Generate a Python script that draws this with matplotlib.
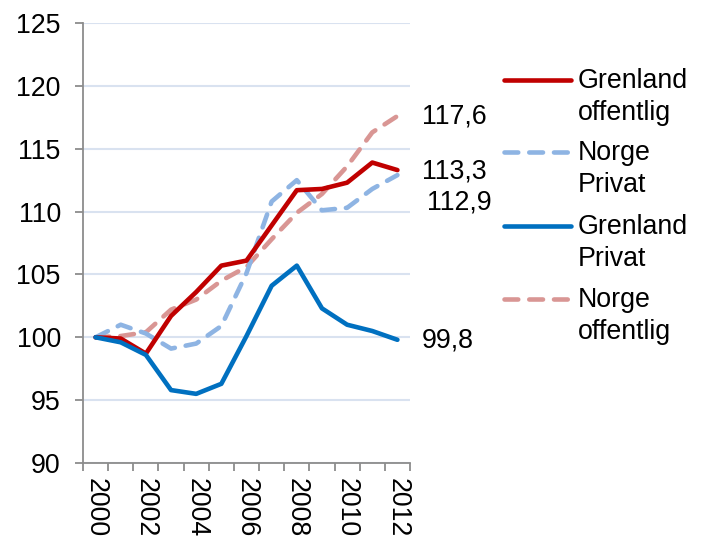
import numpy as np
import matplotlib
matplotlib.use("Agg")
from matplotlib import pyplot as plt
from matplotlib.lines import Line2D

plt.rcParams['font.family'] = ['Liberation Sans', 'DejaVu Sans']

years = list(range(2000, 2013))
grenland_offentlig = [100.0, 99.9, 98.7, 101.7, 103.6, 105.7, 106.1, 108.9, 111.7, 111.8, 112.3, 113.9, 113.3]
norge_privat = [100.0, 101.0, 100.3, 99.1, 99.5, 100.9, 105.1, 110.8, 112.5, 110.1, 110.3, 111.8, 112.9]
grenland_privat = [100.0, 99.6, 98.6, 95.8, 95.5, 96.3, 100.1, 104.1, 105.7, 102.3, 101.0, 100.5, 99.8]
norge_offentlig = [100.0, 100.1, 100.4, 102.2, 103.0, 104.5, 105.6, 107.8, 109.9, 111.4, 113.6, 116.3, 117.6]

series = [
    ("Grenland\noffentlig", grenland_offentlig, "#C00000", "-"),
    ("Norge\nPrivat", norge_privat, "#8EB4E3", "--"),
    ("Grenland\nPrivat", grenland_privat, "#0070C0", "-"),
    ("Norge\noffentlig", norge_offentlig, "#D99694", "--"),
]
end_labels = ["113,3", "112,9", "99,8", "117,6"]
# pixel offsets of the end labels from the last point
label_offsets = [(25, -1), (30, -27), (24, -1), (25, 0)]

FS = 19.3
LW = 3.3
DASH = (3.0, 2.4)

W, H = 703, 538
fig = plt.figure(figsize=(W / 100, H / 100), dpi=100)
ax = fig.add_axes([83 / W, 1 - 463 / H, (410 - 83) / W, (463 - 23) / H])

x = np.arange(len(years))
draw_order = [3, 1, 0, 2]
for i in draw_order:
    name, vals, color, ls = series[i]
    if ls == "--":
        ax.plot(x, vals, color=color, lw=LW, dashes=DASH,
                dash_capstyle="round", solid_joinstyle="round", zorder=3)
    else:
        ax.plot(x, vals, color=color, lw=LW, solid_capstyle="round",
                solid_joinstyle="round", zorder=4)

for (name, vals, color, ls), lab, (dx, dy) in zip(series, end_labels, label_offsets):
    ax.annotate(lab, xy=(x[-1], vals[-1]), xytext=(dx, dy), textcoords="offset pixels",
                ha="left", va="center", fontsize=FS, annotation_clip=False)

ax.set_xlim(-0.5, len(years) - 0.5)
ax.set_ylim(90, 125)
ax.set_yticks(np.arange(90, 126, 5))
ax.set_xticks(x[::2])
ax.set_xticklabels([str(y) for y in years[::2]], rotation=270, fontsize=FS)
ax.set_xticks(np.arange(-0.5, len(years), 1), minor=True)
ax.tick_params(axis="x", which="major", length=0, pad=11)
ax.tick_params(axis="x", which="minor", length=6, width=1.3, color="#8c8c8c", direction="out")
ax.tick_params(axis="y", length=6, width=1.3, color="#8c8c8c", direction="out", pad=10, labelsize=FS)

ax.grid(axis="y", color="#D9E2F0", lw=1.5, zorder=0)
ax.set_axisbelow(True)
for s in ["top", "right"]:
    ax.spines[s].set_visible(False)
for s in ["left", "bottom"]:
    ax.spines[s].set_color("#8c8c8c")
    ax.spines[s].set_linewidth(1.3)

# legend drawn by hand in figure pixels
legend_y = [80, 152, 226, 299]
for (name, vals, color, ls), ly in zip(series, legend_y):
    yf = 1 - ly / H
    kw = dict(dashes=DASH, dash_capstyle="round") if ls == "--" else dict(solid_capstyle="round")
    fig.add_artist(Line2D([504 / W, 571 / W], [yf, yf], color=color, lw=LW, **kw))
    fig.text(578 / W, 1 - (ly - 12) / H, name, fontsize=FS, ha="left", va="top", linespacing=1.32)

fig.savefig("out.png", dpi=100)
